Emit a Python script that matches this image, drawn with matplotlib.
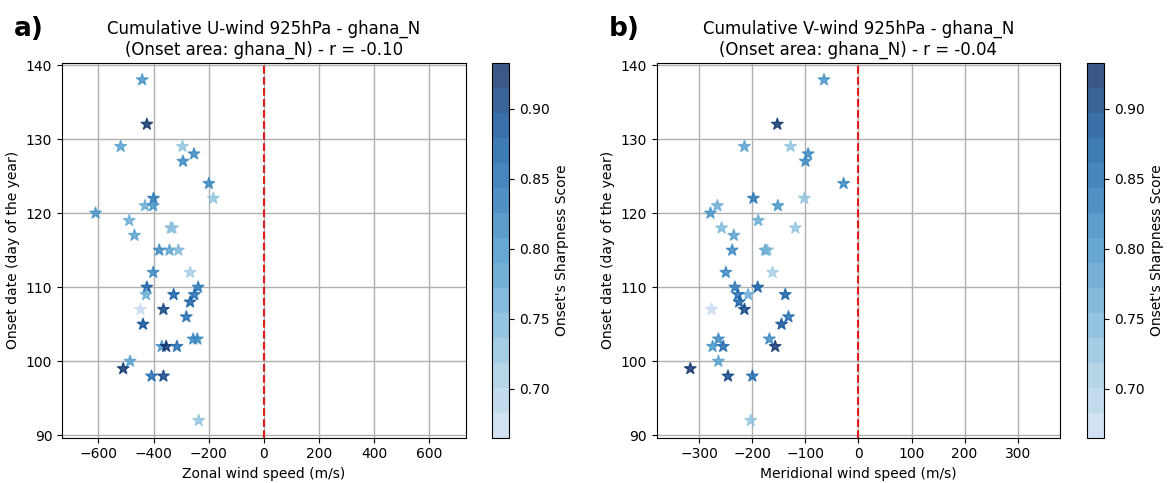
import numpy as np
import matplotlib
matplotlib.use('Agg')
import matplotlib.pyplot as plt
from matplotlib.colors import ListedColormap, Normalize

# onset day of year, cumulative winds at 925hPa and onset sharpness, one entry per year
onset_day = [138, 132, 129, 129, 128, 127, 124, 122, 122, 121, 121, 120, 119, 117,
             118, 118, 115, 115, 115, 112, 112, 110, 110, 109, 109, 109, 108, 107,
             107, 106, 105, 103, 103, 102, 102, 102, 100, 99, 98, 98, 92]
u_wind = [-441, -424, -519, -295, -253, -293, -199, -183, -400, -431, -401, -610, -488, -469,
          -337, -331, -379, -342, -310, -401, -267, -424, -238, -427, -327, -252, -267, -447,
          -364, -281, -438, -256, -241, -370, -354, -315, -485, -510, -407, -364, -236]
v_wind = [-65, -153, -215, -128, -95, -100, -28, -102, -198, -266, -152, -279, -189, -235,
          -258, -119, -238, -176, -172, -250, -162, -190, -233, -208, -138, -227, -225, -277,
          -215, -132, -145, -264, -168, -275, -157, -255, -264, -317, -200, -246, -203]
sharpness = [0.80, 0.92, 0.78, 0.72, 0.81, 0.82, 0.81, 0.72, 0.83, 0.77, 0.80, 0.80, 0.76, 0.79,
             0.74, 0.73, 0.82, 0.79, 0.74, 0.81, 0.71, 0.87, 0.83, 0.77, 0.87, 0.85, 0.87, 0.665,
             0.91, 0.86, 0.88, 0.82, 0.82, 0.80, 0.92, 0.85, 0.79, 0.933, 0.85, 0.91, 0.72]

r_u = -0.10
r_v = -0.04

cmap = ListedColormap(plt.get_cmap('Blues')(np.linspace(0.25, 1.0, 15)))
norm = Normalize(vmin=min(sharpness), vmax=max(sharpness))

fig = plt.figure(figsize=(11.76, 4.83), dpi=100)

panels = [
    ('a)', u_wind, 'U-wind', r_u, 'Zonal wind speed (m/s)', 0.0527),
    ('b)', v_wind, 'V-wind', r_v, 'Meridional wind speed (m/s)', 0.5584),
]

for tag, wind, name, r, xlabel, left in panels:
    ax = fig.add_axes([left, 0.094, 0.3432, 0.776])
    cax = fig.add_axes([left + 0.3655, 0.094, 0.015, 0.776])

    ax.grid(True, color='#b0b0b0', linewidth=1)
    ax.set_axisbelow(True)
    sc = ax.scatter(wind, onset_day, c=sharpness, cmap=cmap, norm=norm,
                    marker='*', s=75, alpha=0.8)
    ax.axvline(0, color='#e31a1c', linestyle='--', linewidth=1.5)

    lim = 1.2 * np.max(np.abs(wind))
    ax.set_xlim(-lim, lim)
    ax.set_yticks(np.arange(90, 141, 10))
    ax.set_xlabel(xlabel)
    ax.set_ylabel('Onset date (day of the year)')
    ax.set_title(f'Cumulative {name} 925hPa - ghana_N\n(Onset area: ghana_N) - r = {r:.2f}',
                 fontsize=12)

    cb = fig.colorbar(sc, cax=cax)
    cb.set_ticks([0.70, 0.75, 0.80, 0.85, 0.90])
    cb.set_label("Onset's Sharpness Score", fontsize=10)

    fig.text(left - 0.041, 0.925, tag, fontsize=19, fontweight='bold')

fig.savefig('out.png', dpi=100)
